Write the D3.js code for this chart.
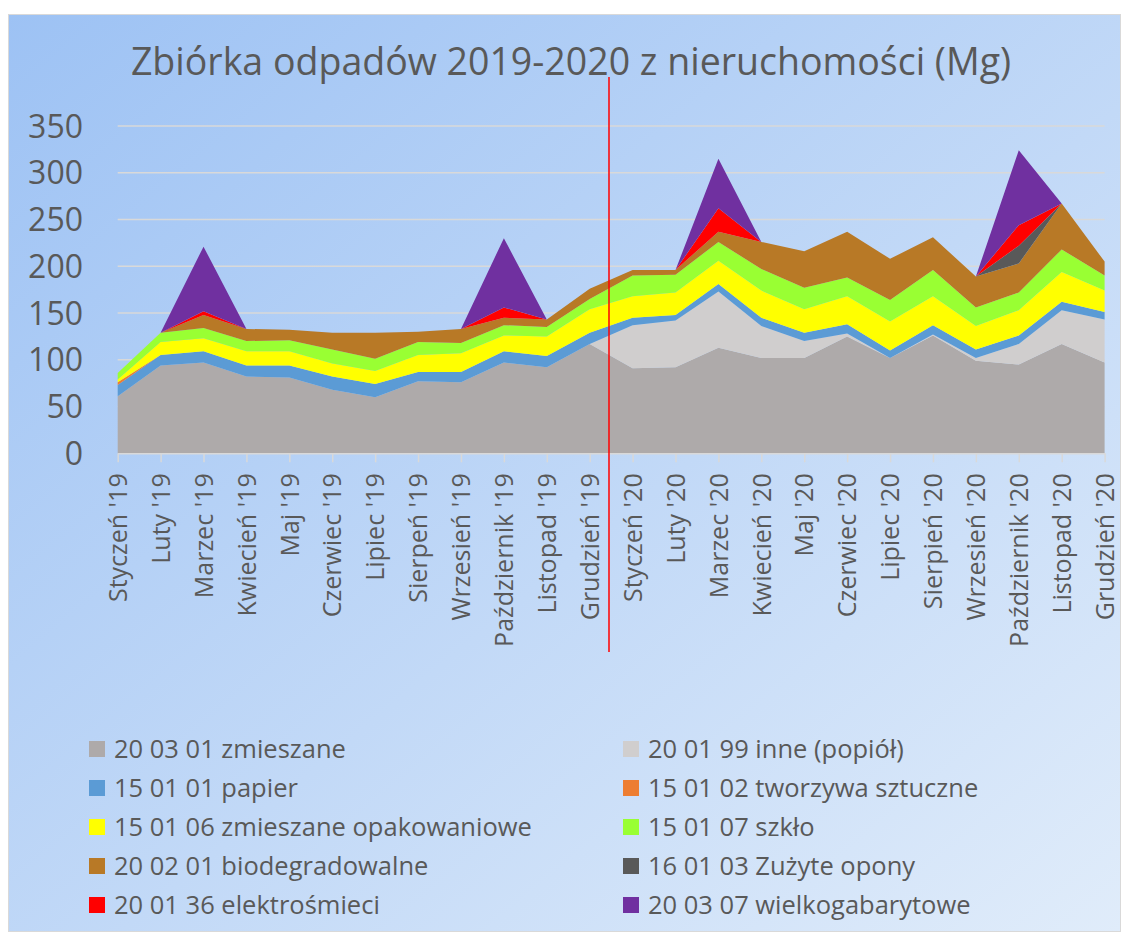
<!DOCTYPE html>
<meta charset="utf-8">
<style>
  body { margin: 0; background: #fff; }
  text { font-family: "Open Sans", sans-serif; fill: #595959; }
</style>
<svg width="1121" height="932"></svg>
<script src="https://d3js.org/d3.v7.min.js"></script>
<script>

var months = ["Styczeń '19", "Luty '19", "Marzec '19", "Kwiecień '19", "Maj '19", "Czerwiec '19",
              "Lipiec '19", "Sierpeń '19", "Wrzesień '19", "Październik '19", "Listopad '19", "Grudzień '19",
              "Styczeń '20", "Luty '20", "Marzec '20", "Kwiecień '20", "Maj '20", "Czerwiec '20",
              "Lipiec '20", "Sierpień '20", "Wrzesień '20", "Październik '20", "Listopad '20", "Grudzień '20"];

// values in Mg
var zmieszane    = [61, 94, 97, 82, 81, 68, 60, 77, 76, 97, 92, 117, 91, 92, 113, 102, 102, 125, 102, 126, 99, 95, 117, 97];
var popiol       = [0, 0, 0, 0, 0, 0, 0, 0, 0, 0, 0, 0, 46, 50, 60, 34, 18, 3, 0, 1, 3, 22, 36, 46];
var papier       = [12, 11, 12, 12, 13, 14, 14, 10, 11, 12, 12, 12, 8, 6, 8, 9, 9, 10, 8, 10, 9, 9, 9, 8];
var tworzywa     = [3, 0, 0, 0, 0, 0, 0, 0, 0, 0, 0, 0, 0, 0, 0, 0, 0, 0, 0, 0, 0, 0, 0, 0];
var opakowaniowe = [3, 14, 14, 15, 15, 14, 14, 18, 20, 17, 21, 25, 23, 24, 25, 29, 25, 30, 31, 31, 25, 27, 32, 23];
var szklo        = [7, 10, 11, 11, 12, 15, 13, 14, 11, 11, 10, 11, 22, 19, 20, 23, 23, 20, 23, 28, 20, 19, 24, 16];
var bio          = [0, 0, 14, 13, 11, 18, 28, 11, 15, 8, 8, 11, 6, 5, 11, 29, 39, 49, 44, 35, 33, 31, 49, 15];
var opony        = [0, 0, 0, 0, 0, 0, 0, 0, 0, 0, 0, 0, 0, 0, 0, 0, 0, 0, 0, 0, 0, 19, 0, 0];
var elektro      = [0, 0, 4, 0, 0, 0, 0, 0, 0, 11, 0, 0, 0, 0, 25, 0, 0, 0, 0, 0, 0, 22, 0, 0];
var wielko       = [0, 0, 69, 0, 0, 0, 0, 0, 0, 74, 0, 0, 0, 0, 53, 0, 0, 0, 0, 0, 0, 80, 0, 0];

var seriesNames = ["20 03 01 zmieszane", "20 01 99 inne (popiół)", "15 01 01 papier", "15 01 02 tworzywa sztuczne",
                   "15 01 06 zmieszane opakowaniowe", "15 01 07 szkło", "20 02 01 biodegradowalne",
                   "16 01 03 Zużyte opony", "20 01 36 elektrośmieci", "20 03 07 wielkogabarytowe"];
var seriesValues = [zmieszane, popiol, papier, tworzywa, opakowaniowe, szklo, bio, opony, elektro, wielko];
var colors = ["#aeaaaa", "#d0cece", "#5b9bd5", "#ed7d31", "#ffff00", "#99ff33", "#b87926", "#595959", "#ff0000", "#7030a0"];

var yTicks = [0, 50, 100, 150, 200, 250, 300, 350];

var svg = d3.select("svg");

var defs = svg.append("defs");
var grad = defs.append("linearGradient").attr("id", "bg")
    .attr("x1", 0).attr("y1", 0).attr("x2", 1).attr("y2", 1);
grad.append("stop").attr("offset", 0).attr("stop-color", "#9dc2f4");
grad.append("stop").attr("offset", 0.55).attr("stop-color", "#c2d9f7");
grad.append("stop").attr("offset", 1).attr("stop-color", "#e0ecfa");

svg.append("rect")
    .attr("x", 8.5).attr("y", 14.5).attr("width", 1112).attr("height", 917)
    .attr("fill", "url(#bg)").attr("stroke", "#d9d9d9");

var x = d3.scalePoint().domain(months).range([117.7, 1104.6]);
var y = d3.scaleLinear().domain([0, 350]).range([453.3, 126]);

// rows for the stack
var table = months.map(function(m, i) {
  var row = {month: m};
  seriesNames.forEach(function(s, j) { row[s] = seriesValues[j][i]; });
  return row;
});
var stacked = d3.stack().keys(seriesNames)(table);

// gridlines
svg.append("g").selectAll("line")
  .data(yTicks.filter(function(d) { return d > 0; }))
  .enter().append("line")
    .attr("x1", x.range()[0]).attr("x2", x.range()[1])
    .attr("y1", function(d) { return y(d); }).attr("y2", function(d) { return y(d); })
    .attr("stroke", "#d9d9d9").attr("stroke-width", 1.5);

var area = d3.area()
    .x(function(d) { return x(d.data.month); })
    .y0(function(d) { return y(d[0]); })
    .y1(function(d) { return y(d[1]); });

svg.append("g").selectAll("path")
  .data(stacked)
  .enter().append("path")
    .attr("d", area)
    .attr("fill", function(d, i) { return colors[i]; });

// x axis
var xAxis = svg.append("g")
    .attr("transform", "translate(0," + y(0) + ")")
    .call(d3.axisBottom(x).tickSize(9).tickSizeOuter(0).tickPadding(10));
xAxis.select(".domain").attr("stroke", "#d9d9d9").attr("stroke-width", 1.5);
xAxis.selectAll(".tick line").attr("stroke", "#d9d9d9").attr("stroke-width", 1.5);
xAxis.selectAll(".tick text")
    .attr("font-family", "Open Sans, sans-serif")
    .attr("font-size", 25)
    .attr("fill", "#595959")
    .attr("transform", "rotate(-90)")
    .attr("text-anchor", "end")
    .attr("x", -20).attr("y", 0).attr("dy", "0.35em");

// y axis labels
svg.append("g").selectAll("text")
  .data(yTicks)
  .enter().append("text")
    .attr("x", 83)
    .attr("y", function(d) { return y(d); })
    .attr("dy", "0.36em")
    .attr("text-anchor", "end")
    .attr("font-size", 32)
    .text(function(d) { return d; });

// title
svg.append("text")
    .attr("x", 571).attr("y", 75)
    .attr("text-anchor", "middle")
    .attr("font-size", 37.5)
    .text("Zbiórka odpadów 2019-2020 z nieruchomości (Mg)");

// 2019 / 2020 divider
svg.append("line")
    .attr("x1", 609).attr("x2", 609).attr("y1", 77).attr("y2", 652)
    .attr("stroke", "#ff0000").attr("stroke-width", 1.5);

// legend
var legend = svg.append("g").selectAll("g")
  .data(seriesNames)
  .enter().append("g")
    .attr("transform", function(d, i) {
      return "translate(" + (i % 2 ? 623 : 89) + "," + (749 + Math.floor(i / 2) * 39) + ")";
    });
legend.append("rect")
    .attr("x", 0).attr("y", -8).attr("width", 16).attr("height", 16)
    .attr("fill", function(d, i) { return colors[i]; });
legend.append("text")
    .attr("x", 25).attr("dy", "0.36em")
    .attr("font-size", 25.5)
    .text(function(d) { return d; });

</script>
